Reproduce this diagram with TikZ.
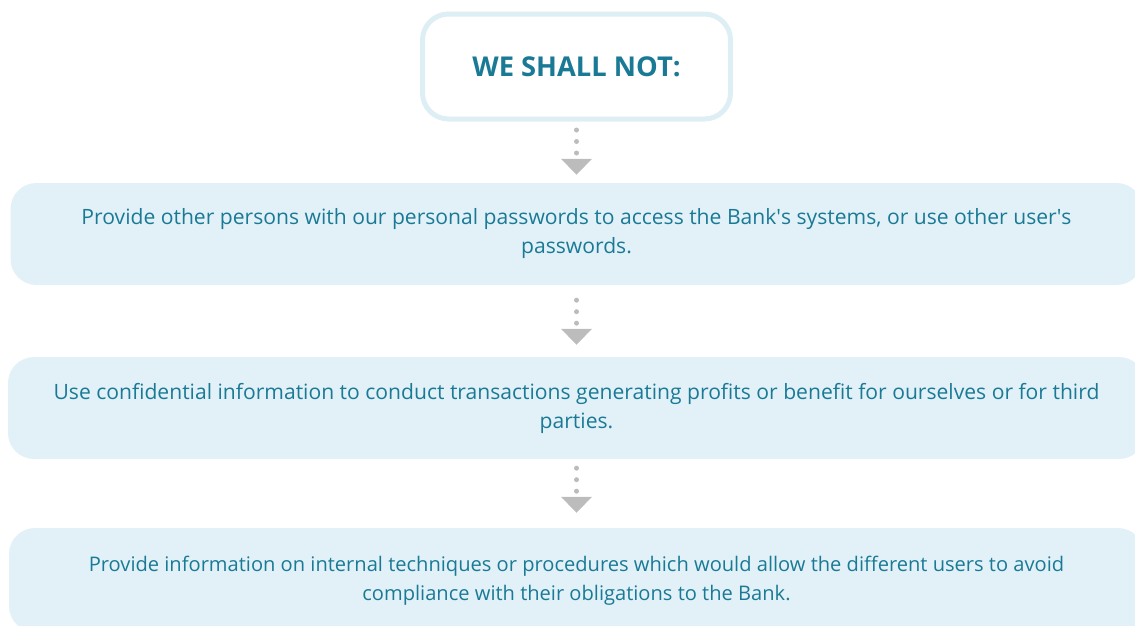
\documentclass[tikz,border=0pt]{standalone}
\usepackage{fontspec}
\setmainfont{Open Sans}
\usetikzlibrary{arrows.meta}
\definecolor{txt}{HTML}{1A7A96}
\definecolor{boxfill}{HTML}{E2F1F7}
\definecolor{boxline}{HTML}{DDEFF5}
\definecolor{dotgray}{HTML}{BCBCBC}
\tikzset{
  titlebox/.style={draw=boxline, line width=5pt, fill=white, rounded corners=26pt,
    minimum width=308pt, minimum height=105pt, inner sep=0pt, text=txt,
    font=\fontsize{27.3}{31}\selectfont\bfseries},
  itembox/.style={fill=boxfill, rounded corners=26pt, minimum height=102pt,
    inner sep=0pt, text=txt, align=center,
    font=\fontsize{21.1}{29}\selectfont},
  dotconn/.style={draw=dotgray, line width=5pt, line cap=round,
    dash pattern=on 0pt off 11.5pt,
    -{Triangle[width=30pt,length=16pt,fill=dotgray]}}
}
\begin{document}
\begin{tikzpicture}[x=1pt,y=-1pt]
\useasboundingbox (0,0) rectangle (1135,625);
\begin{scope}
\clip (0,0) rectangle (1135,625);
\node[titlebox] (title) at (576.5,66.5) {WE SHALL NOT:};
\node[itembox, minimum width=1132pt] (b1) at (576.5,234)
  {Provide other persons with our personal passwords to access the Bank\textquotesingle s systems, or use other user\textquotesingle s\\passwords.};
\node[itembox, minimum width=1137pt] (b2) at (576.5,408)
  {Use confidential information to conduct transactions generating profits or benefit for ourselves or for third\\parties.};
\node[itembox, minimum width=1135pt, minimum height=104pt, font=\fontsize{20.1}{29}\selectfont] (b3) at (576.5,580)
  {\raisebox{4pt}{\begin{tabular}{@{}c@{}}Provide information on internal techniques or procedures which would allow the different users to avoid\\compliance with their obligations to the Bank.\end{tabular}}};
\end{scope}
\draw[dotconn, shorten <=8.5pt, shorten >=8pt] (title.south) -- (b1.north);
\draw[dotconn, shorten <=15pt, shorten >=12pt] (b1.south) -- (b2.north);
\draw[dotconn, shorten <=9pt, shorten >=15pt] (b2.south) -- (b3.north);
\end{tikzpicture}
\end{document}
